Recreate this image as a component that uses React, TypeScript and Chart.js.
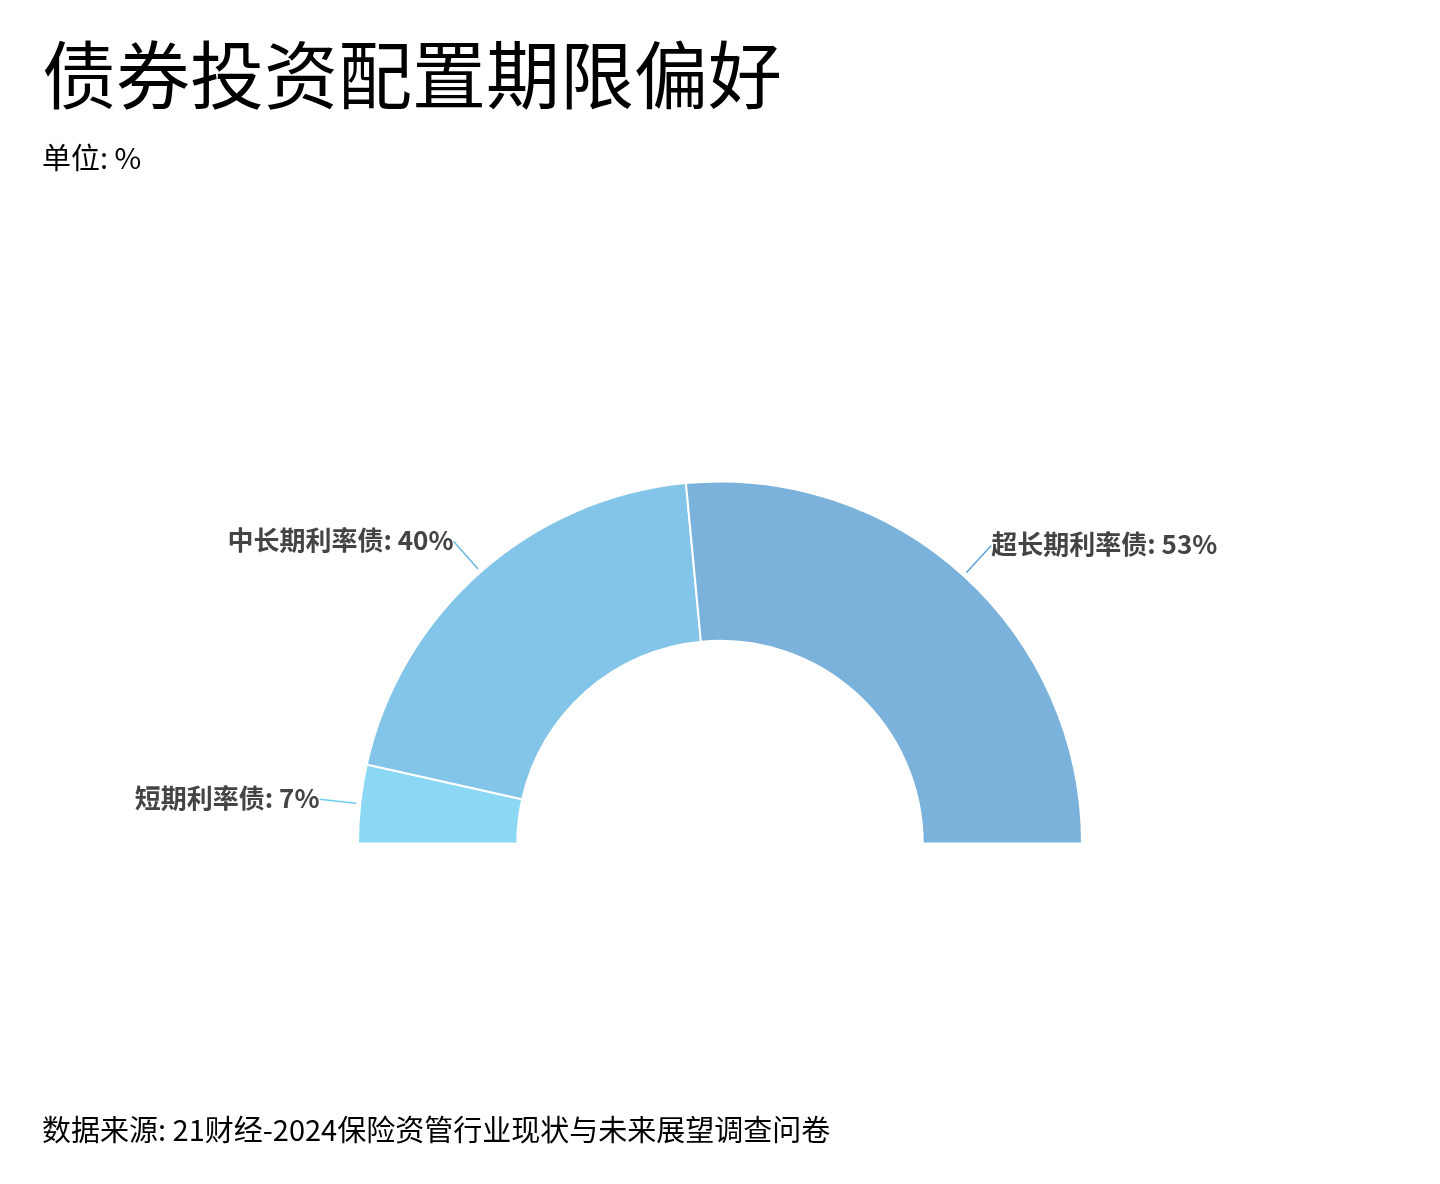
import { useRef, useEffect } from "react"
import { Chart, registerables, Plugin } from "chart.js"

Chart.register(...registerables)

const categories = ["短期利率债", "中长期利率债", "超长期利率债"]
const shares = [7, 40, 53]
const sliceColors = ["#8ad8f3", "#82c5e8", "#7bb2db"]
const leaderColors = ["#6fcdef", "#6cb8e2", "#5fa2d5"]

const FONT = '"Noto Sans CJK SC", "Noto Sans", sans-serif'

// draws the leader lines and "name: value%" labels outside each slice
const outsideLabels: Plugin<"doughnut"> = {
  id: "outsideLabels",
  afterDatasetsDraw(chart) {
    const ctx = chart.ctx
    const meta = chart.getDatasetMeta(0)
    ctx.save()
    meta.data.forEach((arc: any, i: number) => {
      const { x, y, startAngle, endAngle, outerRadius } = arc.getProps(
        ["x", "y", "startAngle", "endAngle", "outerRadius"],
        true
      )
      const mid = (startAngle + endAngle) / 2
      const cos = Math.cos(mid)
      const sin = Math.sin(mid)
      const r1 = outerRadius + 4
      const r2 = outerRadius + 41
      const x2 = x + cos * r2
      const y2 = y + sin * r2
      ctx.strokeStyle = leaderColors[i]
      ctx.lineWidth = 1.5
      ctx.beginPath()
      ctx.moveTo(x + cos * r1, y + sin * r1)
      ctx.lineTo(x2, y2)
      ctx.stroke()

      ctx.fillStyle = "#444444"
      ctx.font = `bold 26px ${FONT}`
      ctx.textBaseline = "middle"
      ctx.textAlign = cos < 0 ? "right" : "left"
      ctx.fillText(`${categories[i]}: ${shares[i]}%`, x2, y2 - 1)
    })
    ctx.restore()
  },
}

export default function App() {
  const canvasRef = useRef<HTMLCanvasElement>(null)
  const chartRef = useRef<Chart<"doughnut"> | null>(null)

  useEffect(() => {
    if (!canvasRef.current) return
    if (chartRef.current) chartRef.current.destroy()

    chartRef.current = new Chart(canvasRef.current, {
      type: "doughnut",
      data: {
        labels: categories,
        datasets: [
          {
            data: shares,
            backgroundColor: sliceColors,
            borderColor: "#ffffff",
            borderWidth: 2,
          },
        ],
      },
      options: {
        responsive: false,
        animation: false,
        rotation: -90,
        circumference: 180,
        cutout: "56%",
        layout: {
          padding: { left: 357, right: 357, top: 480, bottom: 339 },
        },
        plugins: {
          legend: { display: false },
          tooltip: { enabled: false },
        },
      },
      plugins: [outsideLabels],
    })

    return () => {
      if (chartRef.current) chartRef.current.destroy()
      chartRef.current = null
    }
  }, [])

  return (
    <div
      style={{
        position: "absolute",
        left: 0,
        top: 0,
        width: 1440,
        height: 1184,
        background: "#ffffff",
        fontFamily: FONT,
        color: "#000000",
      }}
    >
      <canvas
        ref={canvasRef}
        width={1440}
        height={1184}
        style={{ position: "absolute", left: 0, top: 0, width: 1440, height: 1184 }}
      />
      <div style={{ position: "absolute", left: 42, top: 34, fontSize: 74, lineHeight: 1, whiteSpace: "nowrap" }}>
        债券投资配置期限偏好
      </div>
      <div style={{ position: "absolute", left: 42, top: 142, fontSize: 29, lineHeight: 1, whiteSpace: "nowrap" }}>
        单位: %
      </div>
      <div style={{ position: "absolute", left: 42, top: 1114, fontSize: 29, lineHeight: 1, whiteSpace: "nowrap" }}>
        数据来源: 21财经-2024保险资管行业现状与未来展望调查问卷
      </div>
    </div>
  )
}
